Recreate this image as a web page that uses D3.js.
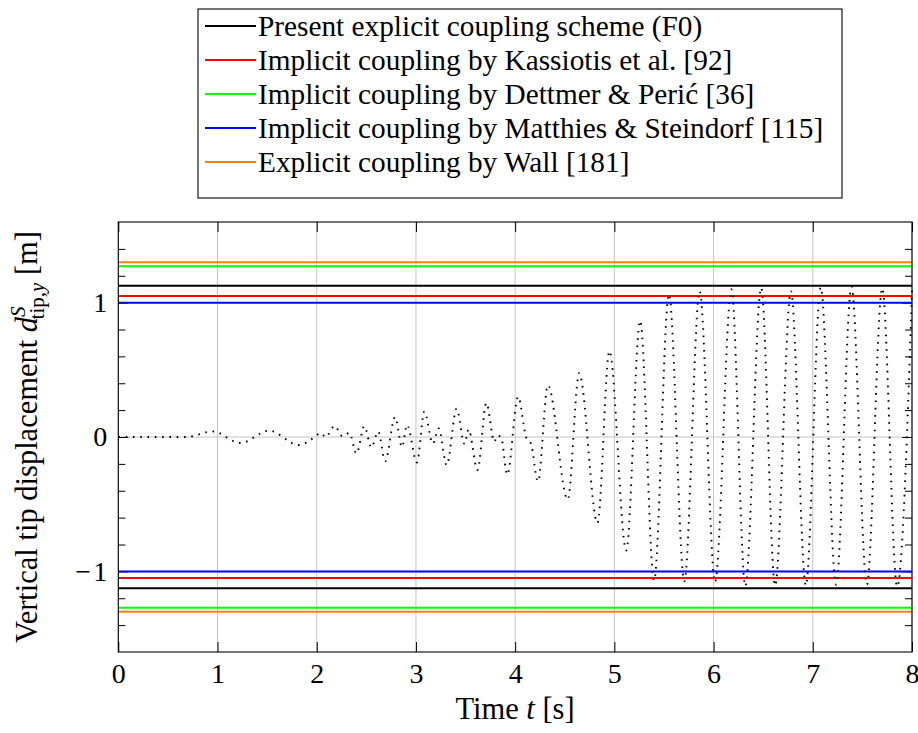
<!DOCTYPE html>
<html>
<head>
<meta charset="utf-8">
<script src="https://cdn.jsdelivr.net/npm/d3@7"></script>
<style>
  html, body { margin: 0; padding: 0; background: #fff; }
  svg text { font-family: "Liberation Serif", "Times New Roman", serif; fill: #000; }
</style>
</head>
<body>
<svg id="chart" width="918" height="733"></svg>
<script>
// ---------- data ----------
const timeS = [0, 0.69, 0.95, 1.23, 1.52, 1.82, 1.98, 2.04, 2.09, 2.18, 2.26, 2.33, 2.40, 2.48, 2.55, 2.62, 2.69, 2.79, 2.86, 2.91, 3.01, 3.085, 3.17, 3.23, 3.31, 3.41, 3.49, 3.53, 3.62, 3.71, 3.79, 3.82, 3.86, 3.92, 4.03, 4.11, 4.16, 4.23, 4.33, 4.53, 4.645, 4.83, 4.95, 5.12, 5.26, 5.40, 5.55, 5.705, 5.86, 6.015, 6.18, 6.32, 6.48, 6.62, 6.78, 6.93, 7.08, 7.235, 7.39, 7.545, 7.70, 7.85, 8.0];
const tipDisp = [0, 0, 0.042, -0.045, 0.047, -0.06, 0, 0.03, 0.0, 0.082, 0.005, 0.03, -0.124, 0.080, -0.077, 0.04, -0.18, 0.149, -0.075, 0.09, -0.19, 0.19, -0.05, 0.064, -0.21, 0.21, -0.052, 0.057, -0.246, 0.253, -0.035, 0.01, -0.005, -0.28, 0.30, 0.0, -0.05, -0.33, 0.385, -0.465, 0.475, -0.64, 0.64, -0.845, 0.865, -1.068, 1.063, -1.073, 1.085, -1.08, 1.10, -1.11, 1.11, -1.105, 1.083, -1.105, 1.113, -1.10, 1.118, -1.098, 1.106, -1.113, 1.088];

const refNames = [
  "Present explicit coupling scheme (F0)",
  "Implicit coupling by Kassiotis et al. [92]",
  "Implicit coupling by Dettmer & Perić [36]",
  "Implicit coupling by Matthies & Steindorf [115]",
  "Explicit coupling by Wall [181]"
];
const refLevels = [1.125, 1.05, 1.27, 1.0, 1.30];

const xTicks = [0, 1, 2, 3, 4, 5, 6, 7, 8];
const yTicks = [-1, 0, 1];
const yMinorTicks = [-1.4, -1.2, -0.8, -0.6, -0.4, -0.2, 0.2, 0.4, 0.6, 0.8, 1.2, 1.4];

// ---------- style ----------
const refColors = ["#000000", "#ff0000", "#00ff00", "#0000ff", "#ff8000"];
const TICK_FONT = 28;
const LEGEND_FONT = 29.3;
const TITLE_FONT = 30.5;
const plot = { left: 118.3, right: 912, top: 222, bottom: 652 };

const svg = d3.select("#chart");
const x = d3.scaleLinear().domain([0, 8]).range([plot.left, plot.right]);
const y = d3.scaleLinear().domain([-1.6, 1.6]).range([plot.bottom, plot.top]);

// grid
const grid = svg.append("g").attr("stroke", "#c4c4c4").attr("stroke-width", 1);
grid.selectAll("line.vx").data(xTicks).join("line")
  .attr("x1", d => x(d)).attr("x2", d => x(d))
  .attr("y1", plot.top).attr("y2", plot.bottom);
grid.selectAll("line.hy").data(yTicks).join("line")
  .attr("x1", plot.left).attr("x2", plot.right)
  .attr("y1", d => y(d)).attr("y2", d => y(d));

// axes (ticks inward)
function styleAxis(g, labels) {
  g.select(".domain").remove();
  g.selectAll(".tick line").attr("stroke", "#000").attr("stroke-width", 1);
  if (!labels) g.selectAll(".tick text").remove();
  else g.selectAll(".tick text").attr("font-size", TICK_FONT).attr("fill", "#000")
        .attr("font-family", '"Liberation Serif", "Times New Roman", serif');
}
const fmtY = d => d < 0 ? "\u2212\u200A" + Math.abs(d) : String(d);

svg.append("g").attr("transform", `translate(0,${plot.bottom})`)
  .call(d3.axisBottom(x).tickValues(xTicks).tickSize(-10).tickPadding(11).tickFormat(d3.format("d")))
  .call(g => styleAxis(g, true));
svg.append("g").attr("transform", `translate(0,${plot.top})`)
  .call(d3.axisTop(x).tickValues(xTicks).tickSize(-10))
  .call(g => styleAxis(g, false));
svg.append("g").attr("transform", `translate(${plot.left},0)`)
  .call(d3.axisLeft(y).tickValues(yTicks).tickSize(-10).tickPadding(11).tickFormat(fmtY))
  .call(g => styleAxis(g, true));
svg.append("g").attr("transform", `translate(${plot.right},0)`)
  .call(d3.axisRight(y).tickValues(yTicks).tickSize(-10))
  .call(g => styleAxis(g, false));
svg.append("g").attr("transform", `translate(${plot.left},0)`)
  .call(d3.axisLeft(y).tickValues(yMinorTicks).tickSize(-7))
  .call(g => styleAxis(g, false));
svg.append("g").attr("transform", `translate(${plot.right},0)`)
  .call(d3.axisRight(y).tickValues(yMinorTicks).tickSize(-7))
  .call(g => styleAxis(g, false));

// reference level lines (+/-)
const lvl = svg.append("g");
refLevels.forEach((v, i) => {
  [v, -v].forEach(s => {
    lvl.append("line")
      .attr("x1", plot.left).attr("x2", plot.right)
      .attr("y1", y(s)).attr("y2", y(s))
      .attr("stroke", refColors[i]).attr("stroke-width", 2);
  });
});

// dotted displacement curve
const pts = timeS.map((t, i) => [t, tipDisp[i]]);
const line = d3.line().x(d => x(d[0])).y(d => y(d[1])).curve(d3.curveMonotoneX);
svg.append("path").datum(pts)
  .attr("d", line)
  .attr("fill", "none").attr("stroke", "#000")
  .attr("stroke-width", 1.9).attr("stroke-dasharray", "1.6 5.7");

// frame
svg.append("rect")
  .attr("x", plot.left).attr("y", plot.top)
  .attr("width", plot.right - plot.left).attr("height", plot.bottom - plot.top)
  .attr("fill", "none").attr("stroke", "#000").attr("stroke-width", 1.1);

// axis titles
const xt = svg.append("text").attr("x", 515).attr("y", 719)
  .attr("text-anchor", "middle").attr("font-size", TITLE_FONT);
xt.append("tspan").text("Time ");
xt.append("tspan").attr("font-style", "italic").text("t");
xt.append("tspan").text(" [s]");

const yt = svg.append("text")
  .attr("transform", `translate(37,${(plot.top + plot.bottom) / 2}) rotate(-90)`)
  .attr("text-anchor", "middle").attr("font-size", TITLE_FONT);
yt.append("tspan").text("Vertical tip displacement ");
yt.append("tspan").attr("font-style", "italic").text("d");
yt.append("tspan").attr("font-style", "italic").attr("font-size", 21).attr("dy", -12).text("S");
yt.append("tspan").attr("font-size", 21).attr("dx", -13).attr("dy", 19).text("tip,");
yt.append("tspan").attr("font-size", 21).attr("font-style", "italic").text("y");
yt.append("tspan").attr("dy", -7).text(" [m]");

// legend
const leg = svg.append("g");
leg.append("rect").attr("x", 198).attr("y", 9).attr("width", 644).attr("height", 189)
  .attr("fill", "#fff").attr("stroke", "#000").attr("stroke-width", 1.1);
refNames.forEach((name, i) => {
  const cy = 26 + i * 34;
  leg.append("line").attr("x1", 205).attr("x2", 256).attr("y1", cy).attr("y2", cy)
    .attr("stroke", refColors[i]).attr("stroke-width", 2);
  leg.append("text").attr("x", 258).attr("y", cy + 10).attr("font-size", LEGEND_FONT).text(name);
});
</script>
</body>
</html>
